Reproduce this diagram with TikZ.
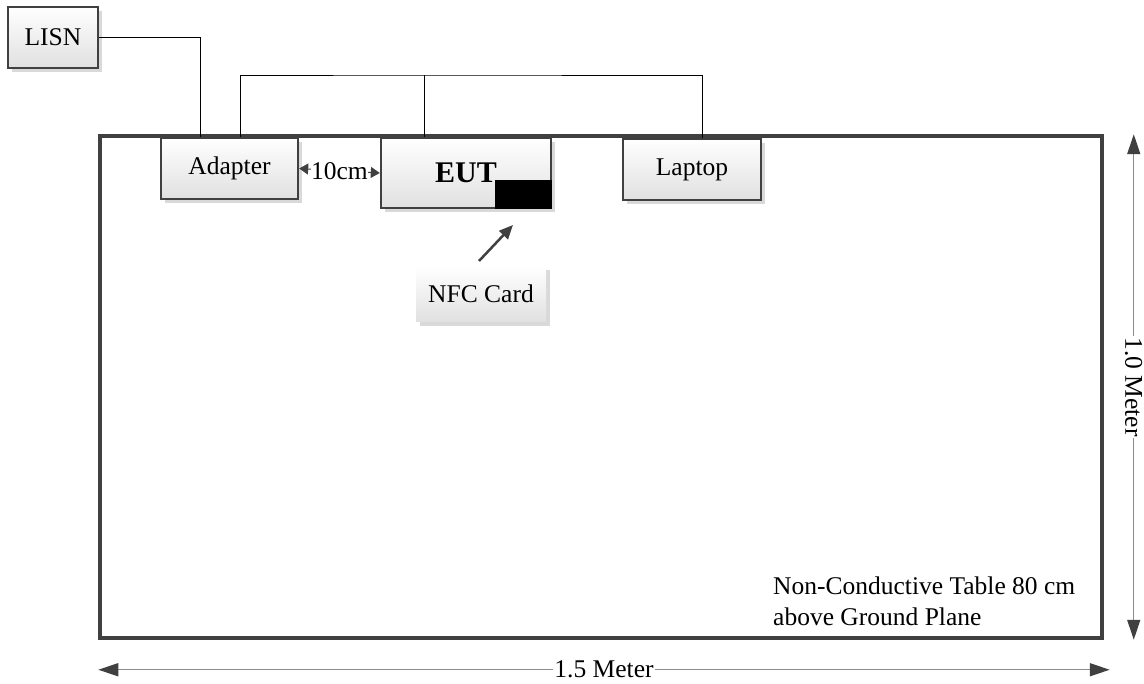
\documentclass[tikz,border=0pt]{standalone}
\usepackage{fontspec}
\setmainfont{Liberation Serif}
\usetikzlibrary{arrows.meta,shadows}

\begin{document}
\begin{tikzpicture}[x=1pt, y=-1pt,
    font=\fontsize{25.5}{31}\selectfont,
    box/.style={draw=black!75, line width=2.4pt, top color=white, bottom color=black!12,
        drop shadow={shadow xshift=4pt, shadow yshift=-4pt, fill=black!15, opacity=1},
        minimum height=61pt, inner sep=0pt},
    dim/.style={draw=black!45, line width=1.4pt, {Triangle[length=20pt,width=13pt,black!75]}-{Triangle[length=20pt,width=13pt,black!75]}},
    wire/.style={draw=black, line width=0.9pt}]
    \useasboundingbox (0,0) rectangle (1144,684);

    % table
    \node[draw=black!75, line width=3.5pt, minimum width=1002pt, minimum height=502pt] at (601,387)(table){};
    \node[align=left, anchor=north west, inner sep=0pt] at (773,577)(tabletext){Non-Conductive Table 80 cm\\above Ground Plane};

    % equipment
    \node[box, minimum width=90pt] at (53,37.5)(lisn){LISN};
    \node[box, minimum width=137pt] at (229.5,168.5)(adapter){Adapter};
    \node[box, minimum width=170pt, minimum height=70pt, font=\fontsize{30}{34}\selectfont\bfseries] at (466,173)(eut){EUT};
    \node[fill=black, minimum width=57pt, minimum height=29pt, inner sep=0pt, anchor=south east,
        drop shadow={shadow xshift=3pt, shadow yshift=-3pt, fill=black!15, opacity=1}] at (eut.south east)(tag){};
    \node[box, minimum width=138pt] at (692,169.5)(laptop){Laptop};
    \node[box, draw=none, minimum width=130pt, minimum height=56pt] at (481,294)(nfc){NFC Card};

    % cables
    \coordinate (bus) at (424,75);
    \draw[wire] (lisn.east) -| ([xshift=41pt]adapter.north west);
    \draw[wire] ([xshift=81pt]adapter.north west) |- (bus) -| ([xshift=81pt]laptop.north west);
    \draw[wire] (bus) -- (bus |- eut.north);

    \draw[{Triangle[length=9pt,width=11pt]}-{Triangle[length=9pt,width=11pt]}, black!75, line width=1pt]
        (adapter.east) -- (eut.west) node[midway, fill=white, inner sep=0pt, text=black]{10cm};
    \draw[-{Triangle[length=14pt,width=12pt]}, black!75, line width=2.5pt] (479,261) -- (513,225);

    % dimensions
    \draw[dim] ([xshift=30pt]table.north east) -- ([xshift=30pt]table.south east)
        node[midway, rotate=-90, fill=white, inner sep=1pt]{1.0 Meter};
    \draw[dim] ([yshift=-30pt]table.south west) -- ([yshift=-30pt,xshift=6pt]table.south east)
        node[midway, fill=white, inner sep=1pt]{1.5 Meter};
\end{tikzpicture}
\end{document}
